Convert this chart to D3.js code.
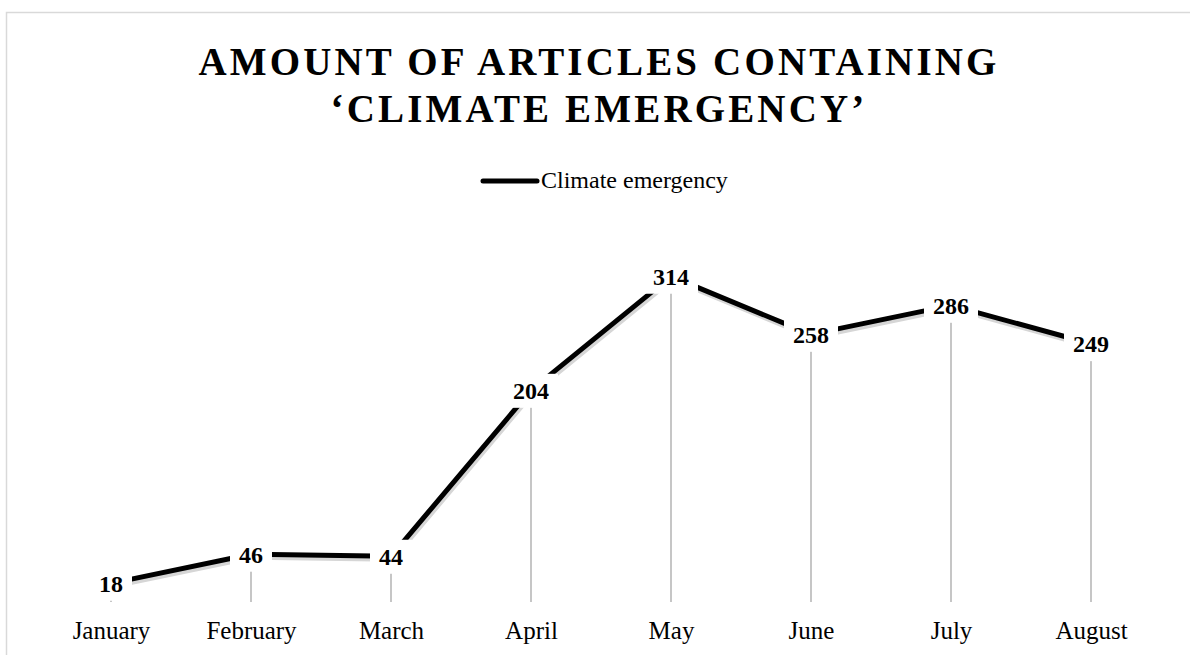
<!DOCTYPE html>
<html>
<head>
<meta charset="utf-8">
<script src="https://cdn.jsdelivr.net/npm/d3@7"></script>
<style>
  body { margin: 0; background: #fff; }
  text { font-family: "Liberation Serif", "Times New Roman", serif; }
</style>
</head>
<body>
<script>
// chart data
var months = ["January", "February", "March", "April", "May", "June", "July", "August"];
var articles = [18, 46, 44, 204, 314, 258, 286, 249];
var seriesName = "Climate emergency";
var titleLines = ["AMOUNT OF ARTICLES CONTAINING", "\u2018CLIMATE EMERGENCY\u2019"];

var width = 1190, height = 655;

var svg = d3.select("body").append("svg")
    .attr("width", width)
    .attr("height", height);

// outer chart border
svg.append("rect")
    .attr("x", 6.5).attr("y", 12.5)
    .attr("width", width).attr("height", height)
    .attr("fill", "none")
    .attr("stroke", "#d9d9d9")
    .attr("stroke-width", 1.5);

// scales
var x = d3.scalePoint().domain(months).range([41, 1161]).padding(0.5);
var y = d3.scaleLinear().domain([0, 350]).range([602, 239]);

// title, stretched a bit with letter spacing
var titleWidth = 798;
titleLines.forEach(function(t, i) {
  var el = svg.append("text")
      .attr("x", 599)
      .attr("y", 75 + i * 47)
      .attr("text-anchor", "middle")
      .attr("font-size", 39)
      .attr("font-weight", "bold")
      .text(t);
  if (i == 0) {
    var w = el.node().getComputedTextLength();
    titleLines.ls = (titleWidth - w) / (t.length - 1);
  }
  el.attr("letter-spacing", titleLines.ls + "px");
});

// legend
svg.append("line")
    .attr("x1", 483).attr("x2", 537)
    .attr("y1", 181).attr("y2", 181)
    .attr("stroke", "#000").attr("stroke-width", 5)
    .attr("stroke-linecap", "round");
svg.append("text")
    .attr("x", 541).attr("y", 188)
    .attr("font-size", 24)
    .text(seriesName);

// x axis (labels only)
var xAxis = svg.append("g")
    .attr("transform", "translate(0,602)")
    .call(d3.axisBottom(x).tickSize(0).tickPadding(19));
xAxis.select(".domain").remove();
xAxis.selectAll("text")
    .attr("font-size", 25)
    .attr("font-family", "Liberation Serif, serif")
    .attr("fill", "#000");

// drop lines
svg.selectAll(".drop")
    .data(articles)
  .enter().append("line")
    .attr("class", "drop")
    .attr("x1", function(d, i) { return x(months[i]); })
    .attr("x2", function(d, i) { return x(months[i]); })
    .attr("y1", function(d) { return y(d); })
    .attr("y2", y(0))
    .attr("stroke", "#b3b3b3")
    .attr("stroke-width", 1.5);

var valueline = d3.line()
    .x(function(d, i) { return x(months[i]); })
    .y(function(d) { return y(d); });

// shadow then line
svg.append("path")
    .datum(articles)
    .attr("d", valueline)
    .attr("transform", "translate(1.5,3)")
    .attr("fill", "none")
    .attr("stroke", "#d6d6d6")
    .attr("stroke-width", 5)
    .attr("stroke-linejoin", "round");
svg.append("path")
    .datum(articles)
    .attr("d", valueline)
    .attr("fill", "none")
    .attr("stroke", "#000")
    .attr("stroke-width", 5)
    .attr("stroke-linejoin", "round");

// data labels with white boxes
var labels = svg.selectAll(".lbl")
    .data(articles)
  .enter().append("g")
    .attr("class", "lbl")
    .attr("transform", function(d, i) { return "translate(" + x(months[i]) + "," + y(d) + ")"; });
labels.append("rect").attr("fill", "#fff");
labels.append("text")
    .attr("text-anchor", "middle")
    .attr("dy", "0.35em")
    .attr("font-size", 24)
    .attr("font-weight", "bold")
    .text(function(d) { return d; });
labels.each(function() {
  var g = d3.select(this);
  var b = g.select("text").node().getBBox();
  g.select("rect")
      .attr("x", b.x - 9).attr("y", b.y - 4)
      .attr("width", b.width + 18).attr("height", b.height + 8);
});
</script>
</body>
</html>
